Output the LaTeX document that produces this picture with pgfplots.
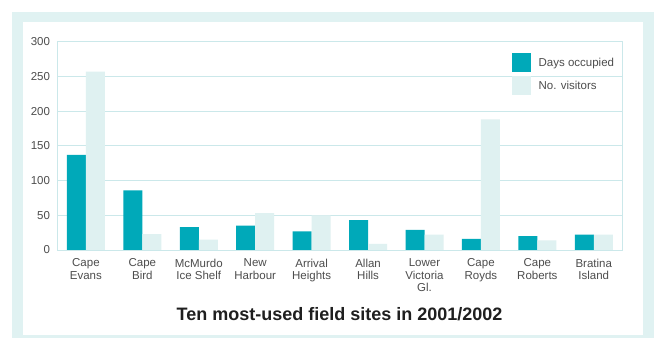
\documentclass[border=0pt]{standalone}
\usepackage{fontspec}
\setmainfont{Liberation Sans}
\usepackage{pgfplots}
\pgfplotsset{compat=1.18}
\definecolor{days}{HTML}{00A9B9}
\definecolor{vis}{HTML}{DFF1F1}
\definecolor{frame}{HTML}{E0F2F2}
\definecolor{gridc}{HTML}{CBE8EA}
\definecolor{txt}{HTML}{4D4D4D}
\begin{document}
\begin{tikzpicture}
\fill[frame] (12bp,-5bp) rectangle (654bp,326bp);
\fill[white] (23bp,3bp) rectangle (643bp,316bp);
\begin{axis}[
  at={(57.7bp,88bp)}, anchor=south west,
  scale only axis, width=564.3bp, height=208.3bp,
  xmin=-0.5, xmax=9.5, ymin=0, ymax=300,
  ytick={0,50,...,300},
  xtick={0,...,9},
  xticklabels={{Cape\\Evans},{Cape\\Bird},{McMurdo\\Ice Shelf},{New\\Harbour},{Arrival\\Heights},{Allan\\Hills},{Lower\\Victoria\\Gl.},{Cape\\Royds},{Cape\\Roberts},{Bratina\\Island}},
  major tick length=0pt,
  ymajorgrids,
  grid style={gridc, line width=1bp},
  axis line style={gridc, line width=1bp},
  /pgf/number format/assume math mode=true,
  yticklabel style={inner sep=0pt, xshift=-7.5bp, font=\fontsize{11.5bp}{12.5bp}\selectfont, text=txt},
  xticklabel style={inner sep=0pt, yshift=-8.5bp, align=center, font=\fontsize{11.5bp}{12.5bp}\selectfont, text=txt},
  ybar, bar width=19bp,
  legend style={draw=none, fill=none, inner sep=0pt, at={(0.8050,0.945)}, anchor=north west,
    font=\fontsize{11.5bp}{12.5bp}\selectfont, text=txt, row sep=4bp,
    /tikz/every odd column/.append style={column sep=5.5bp}},
  legend cell align=left,
  legend image code/.code={\fill[#1] (0bp,-9.5bp) rectangle (19bp,9.5bp);},
]
\addplot[fill=days, draw=none, bar shift=-9.5bp] coordinates {(0,137) (1,86) (2,33) (3,35) (4,27) (5,43) (6,29) (7,16) (8,20) (9,22)};
\addplot[fill=vis, draw=none, bar shift=9.5bp] coordinates {(0,257) (1,23) (2,15) (3,53) (4,50) (5,9) (6,22) (7,188) (8,14) (9,22)};
\legend{Days occupied, No. visitors}
\end{axis}
\node[anchor=base, font=\fontsize{18bp}{20bp}\selectfont\bfseries, text=black!88] at (339.5bp,18bp) {Ten most-used field sites in 2001/2002};
\pgfresetboundingbox
\path[use as bounding box] (0,0) rectangle (656bp,338bp);
\end{tikzpicture}
\end{document}
